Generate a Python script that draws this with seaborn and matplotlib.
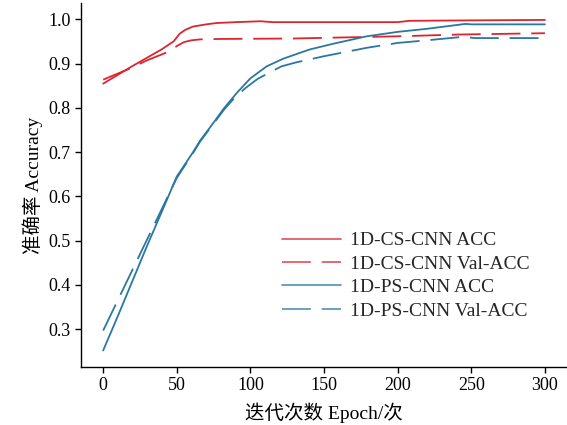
import matplotlib
matplotlib.use("Agg")
import matplotlib.pyplot as plt
import seaborn as sns

cs_acc_x = [0, 10, 20, 30, 40, 48, 52, 56, 61, 70, 77, 90, 107, 115, 150, 200, 208, 250, 300]
cs_acc_y = [0.855, 0.875, 0.895, 0.914, 0.933, 0.951, 0.968, 0.977, 0.984, 0.989, 0.992, 0.994, 0.996, 0.994, 0.994, 0.994, 0.997, 0.998, 0.999]

cs_val_x = [0, 18, 30, 45, 50, 55, 60, 66, 80, 129, 200, 242, 300]
cs_val_y = [0.864, 0.889, 0.908, 0.928, 0.940, 0.949, 0.953, 0.955, 0.956, 0.957, 0.962, 0.966, 0.969]

ps_acc_x = [0, 10, 20, 30, 40, 50, 61, 66, 73, 82, 91, 100, 111, 122, 140, 156, 179, 200, 220, 246, 250, 300]
ps_acc_y = [0.252, 0.33, 0.41, 0.49, 0.567, 0.645, 0.700, 0.727, 0.758, 0.799, 0.835, 0.867, 0.894, 0.911, 0.932, 0.945, 0.962, 0.972, 0.979, 0.990, 0.989, 0.989]

ps_val_x = [0, 10, 20, 30, 40, 50, 61, 66, 73, 82, 90, 97, 105, 121, 131, 150, 179, 200, 220, 245, 252, 300]
ps_val_y = [0.297, 0.366, 0.435, 0.504, 0.573, 0.642, 0.698, 0.725, 0.756, 0.796, 0.826, 0.846, 0.866, 0.894, 0.903, 0.917, 0.936, 0.947, 0.953, 0.961, 0.958, 0.958]

labels = ["1D-CS-CNN ACC", "1D-CS-CNN Val-ACC", "1D-PS-CNN ACC", "1D-PS-CNN Val-ACC"]
xticks = [0, 50, 100, 150, 200, 250, 300]
yticks = [0.3, 0.4, 0.5, 0.6, 0.7, 0.8, 0.9, 1.0]

RED = "#dc2530"
BLUE = "#2a78a0"

sns.set_theme(style="ticks")
plt.rcParams["font.family"] = ["Liberation Serif", "Noto Sans CJK SC"]
plt.rcParams["axes.unicode_minus"] = False

fig = plt.figure(figsize=(5.67, 4.25), dpi=100)
ax = fig.add_axes([0.143, 0.1365, 0.857, 0.8555])

series = [
    (cs_acc_x, cs_acc_y, RED, False),
    (cs_val_x, cs_val_y, RED, True),
    (ps_acc_x, ps_acc_y, BLUE, False),
    (ps_val_x, ps_val_y, BLUE, True),
]
for (xs, ys, c, dashed), lab in zip(series, labels):
    sns.lineplot(x=xs, y=ys, ax=ax, color=c, label=lab, linewidth=1.3)
    if dashed:
        ax.lines[-1].set_dashes((16, 6))

ax.set_xticks(xticks)
ax.set_yticks(yticks)
ax.set_yticklabels([f"{v:.1f}" for v in yticks])
ax.margins(x=0.05, y=0.05)
ax.tick_params(axis="both", labelsize=13, length=4, width=1, direction="out", colors="black")
for s in ["top", "right"]:
    ax.spines[s].set_visible(False)
for s in ["left", "bottom"]:
    ax.spines[s].set_color("black")
    ax.spines[s].set_linewidth(1)

ax.set_xlabel("迭代次数 Epoch/次", fontsize=14, color="black", labelpad=6)
ax.set_ylabel("准确率 Accuracy", fontsize=14, color="black", labelpad=4)

leg = ax.legend(loc="lower right", bbox_to_anchor=(0.96, 0.082), frameon=False,
                fontsize=14, handlelength=3.0, labelspacing=0.3, handletextpad=0.5)
for h in leg.get_lines():
    h.set_alpha(0.75)

fig.savefig("out.png", dpi=100)
